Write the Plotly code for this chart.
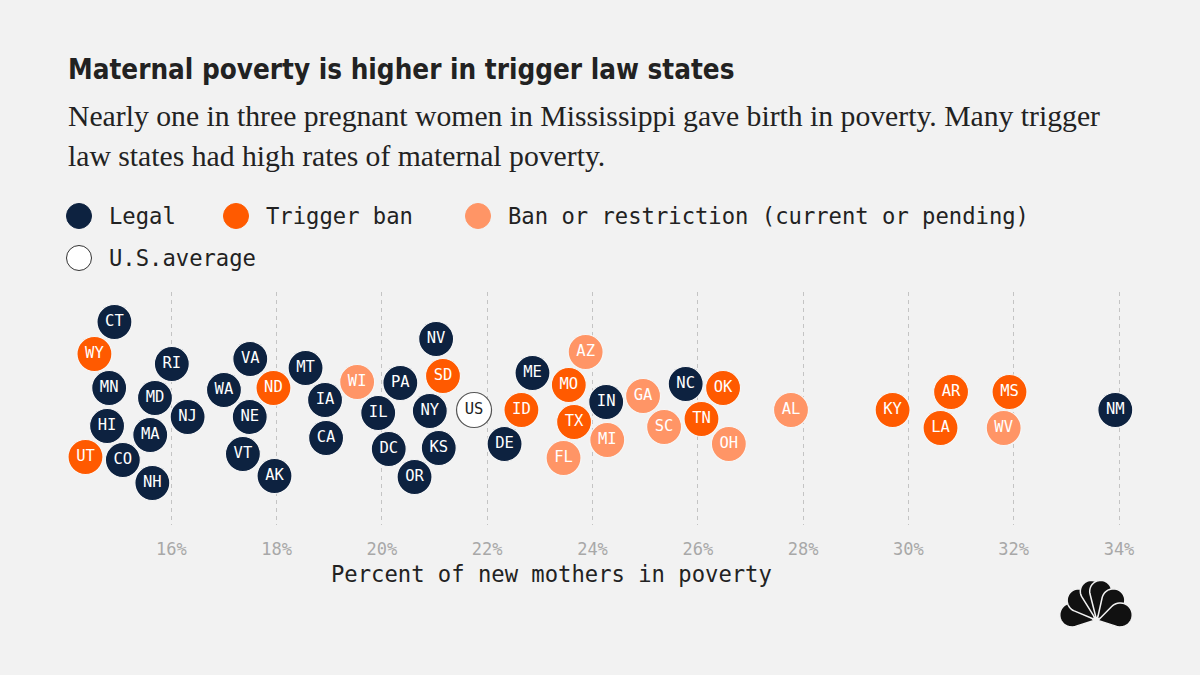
import math
import plotly.graph_objects as go

# ---------------- data ----------------
states = ["CT", "WY", "MN", "HI", "UT", "CO", "RI", "MD", "NJ", "MA", "NH",
          "VA", "WA", "ND", "NE", "VT", "AK", "MT", "WI", "PA", "SD", "NV",
          "IA", "CA", "IL", "NY", "ID", "ME", "DC", "KS", "DE", "OR",
          "AZ", "MO", "IN", "TX", "MI", "FL", "GA", "SC", "NC", "OK", "TN",
          "OH", "AL", "KY", "AR", "LA", "MS", "WV", "NM"]
pct = [14.92, 14.54, 14.82, 14.78, 14.37, 15.08, 16.01, 15.69, 16.31, 15.60, 15.64,
       17.50, 17.00, 17.94, 17.49, 17.36, 17.96, 18.55, 19.53, 20.35, 21.16, 21.03,
       18.92, 18.94, 19.93, 20.91, 22.65, 22.86, 20.13, 21.08, 22.33, 20.62,
       23.87, 23.55, 24.26, 23.65, 24.28, 23.45, 24.96, 25.36, 25.77, 26.48, 26.07,
       26.59, 27.77, 29.70, 30.81, 30.61, 31.92, 31.81, 33.93]
status = ["Legal", "Trigger ban", "Legal", "Legal", "Trigger ban", "Legal", "Legal", "Legal", "Legal", "Legal", "Legal",
          "Legal", "Legal", "Trigger ban", "Legal", "Legal", "Legal", "Legal", "Ban", "Legal", "Trigger ban", "Legal",
          "Legal", "Legal", "Legal", "Legal", "Trigger ban", "Legal", "Legal", "Legal", "Legal", "Legal",
          "Ban", "Trigger ban", "Legal", "Trigger ban", "Ban", "Ban", "Ban", "Ban", "Legal", "Trigger ban", "Trigger ban",
          "Ban", "Ban", "Trigger ban", "Trigger ban", "Trigger ban", "Trigger ban", "Ban", "Legal"]
# beeswarm offsets
swarm_offset = [88, 56, 22, -16, -47, -50, 46, 12, -7, -25, -73,
                51, 20, 22, -7, -44, -66, 42, 28, 27, 34, 71,
                10, -28, -3, -1, 0, 37, -39, -38, -34, -67,
                58, 25, 8, -12, -30, -48, 14, -17, 26, 22, -9,
                -34, 0, 0, 18, -18, 18, -18, 0]
us_avg = 21.75
tick_vals = [16, 18, 20, 22, 24, 26, 28, 30, 32, 34]
tick_text = ["16%", "18%", "20%", "22%", "24%", "26%", "28%", "30%", "32%", "34%"]

# ---------------- style ----------------
BG = "#f2f2f2"
COLORS = {"Legal": "#0d2240", "Trigger ban": "#ff5a00", "Ban": "#ff9566"}
LEGEND_LABELS = [("Legal", "Legal"), ("Trigger ban", "Trigger ban"),
                 ("Ban", "Ban or restriction (current or pending)")]
MONO = "DejaVu Sans Mono"
FW, FH = 1200, 675
L, R, T, B = 40, 30, 292, 150
W, H = FW - L - R, FH - T - B
PX_PER_PCT = 52.65
X16 = 171.3
CENTER_Y = 410
x_lo = 16 - (X16 - L) / PX_PER_PCT
x_hi = 16 + (FW - R - X16) / PX_PER_PCT
y_hi = CENTER_Y - T
y_lo = CENTER_Y - (FH - B)


def pxx(px):
    return (px - L) / W


def pxy(py):
    return ((FH - B) - py) / H


fig = go.Figure()

for key, _ in LEGEND_LABELS:
    idx = [i for i, s in enumerate(status) if s == key]
    fig.add_trace(go.Scatter(
        x=[pct[i] for i in idx], y=[swarm_offset[i] for i in idx],
        text=[states[i] for i in idx], mode="markers+text",
        marker=dict(size=35, color=COLORS[key], line=dict(color="#f7f7f7", width=1.2)),
        textposition="middle center",
        textfont=dict(family=MONO, size=15.5, color="white"),
        showlegend=False, hoverinfo="text", cliponaxis=False))

fig.add_trace(go.Scatter(
    x=[us_avg], y=[0], text=["US"], mode="markers+text",
    marker=dict(size=35, color="white", line=dict(color="#555555", width=1.2)),
    textposition="middle center",
    textfont=dict(family=MONO, size=15.5, color="#222222"),
    showlegend=False, hoverinfo="text", cliponaxis=False))

shapes = []
annotations = []

# Title & subtitle
annotations.append(dict(text="<b>Maternal poverty is higher in trigger law states</b>",
                        x=pxx(66), y=pxy(69), xref="paper", yref="paper",
                        xanchor="left", yanchor="middle", showarrow=False,
                        font=dict(family="Liberation Sans Narrow, DejaVu Sans Condensed, Roboto", size=27.6, color="#222222")))
sub_lines = ["Nearly one in three pregnant women in Mississippi gave birth in poverty. Many trigger",
             "law states had high rates of maternal poverty."]
for i, line in enumerate(sub_lines):
    annotations.append(dict(text=line, x=pxx(66), y=pxy(116 + 40 * i), xref="paper", yref="paper",
                            xanchor="left", yanchor="middle", showarrow=False,
                            font=dict(family="Liberation Serif", size=29.7, color="#222222")))

# Legend
legend_items = [(79, 216, COLORS["Legal"], None, "Legal"),
                (236, 216, COLORS["Trigger ban"], None, "Trigger ban"),
                (478, 216, COLORS["Ban"], None, "Ban or restriction (current or pending)"),
                (79, 258, "white", "#333333", "U.S.average")]
r = 12.5
for cx, cy, fill, border, label in legend_items:
    shapes.append(dict(type="circle", xref="paper", yref="paper",
                       x0=pxx(cx - r), x1=pxx(cx + r), y0=pxy(cy + r), y1=pxy(cy - r),
                       fillcolor=fill, line=dict(color=border or fill, width=1)))
    annotations.append(dict(text=label, x=pxx(cx + 28), y=pxy(cy), xref="paper", yref="paper",
                            xanchor="left", yanchor="middle", showarrow=False,
                            font=dict(family=MONO, size=22.2, color="#222222")))

# Axis title
annotations.append(dict(text="Percent of new mothers in poverty", x=pxx(551), y=pxy(574),
                        xref="paper", yref="paper", xanchor="center", yanchor="middle",
                        showarrow=False, font=dict(family=MONO, size=22.2, color="#222222")))

# NBC peacock logo
cxl, cyl = 1096, 621
feathers = [(166, 23, 12), (130, 25, 11.5), (99, 28, 11), (81, 28, 11), (50, 25, 11.5), (14, 23, 12)]
for ang, D, Rr in feathers:
    a = math.radians(ang)
    bx, by = cxl + 2 * math.cos(a), cyl - 2 * math.sin(a)
    ccx, ccy = bx + D * math.cos(a), by - D * math.sin(a)
    th = math.acos(Rr / D)
    pts = [(bx, by)]
    n = 30
    start = a + math.pi - th
    end = a - math.pi + th
    for k in range(n + 1):
        t = start + (end - start) * k / n
        pts.append((ccx + Rr * math.cos(t), ccy - Rr * math.sin(t)))
    path = "M " + " L ".join(f"{pxx(px):.5f},{pxy(py):.5f}" for px, py in pts) + " Z"
    shapes.append(dict(type="path", xref="paper", yref="paper", path=path,
                       fillcolor="#111111", line=dict(color=BG, width=1.5)))

fig.update_layout(
    width=FW, height=FH, paper_bgcolor=BG, plot_bgcolor=BG,
    margin=dict(l=L, r=R, t=T, b=B, pad=0),
    shapes=shapes, annotations=annotations, showlegend=False,
    xaxis=dict(range=[x_lo, x_hi], tickvals=tick_vals, ticktext=tick_text,
               showgrid=True, gridcolor="#c4c4c4", gridwidth=1, griddash="4px,4px",
               zeroline=False, showline=False, ticks="", ticklabelstandoff=12,
               tickfont=dict(family=MONO, size=17, color="#a8a8a8"), fixedrange=True),
    yaxis=dict(range=[y_lo, y_hi], showgrid=False, zeroline=False, showticklabels=False,
               showline=False, fixedrange=True),
)

fig.write_html("out.html")
